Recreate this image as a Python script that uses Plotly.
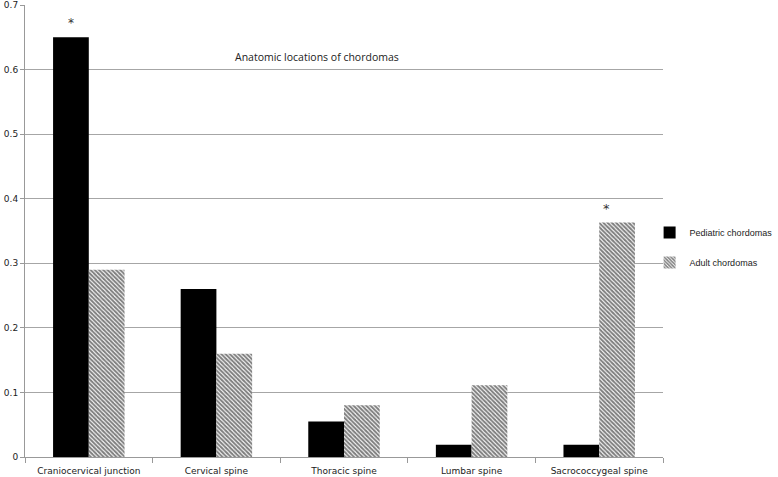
import plotly.graph_objects as go

categories = ["Craniocervical junction", "Cervical spine", "Thoracic spine", "Lumbar spine", "Sacrococcygeal spine"]
pediatric = [0.65, 0.26, 0.055, 0.019, 0.019]
adult = [0.29, 0.16, 0.08, 0.111, 0.363]
y_ticks = [0, 0.1, 0.2, 0.3, 0.4, 0.5, 0.6, 0.7]
y_tick_labels = ["0", "0.1", "0.2", "0.3", "0.4", "0.5", "0.6", "0.7"]

fig = go.Figure()
fig.add_trace(go.Bar(name="Pediatric chordomas", x=categories, y=pediatric, legendgroup="p",
                     marker=dict(color="black", line=dict(width=0))))
fig.add_trace(go.Bar(name="Adult chordomas", x=categories, y=adult, legendgroup="a",
                     marker=dict(color="white", line=dict(width=0),
                                 pattern=dict(shape="\\", fgcolor="#000000", bgcolor="white",
                                              size=3, solidity=0.65))))

fig.add_annotation(x=categories[0], y=pediatric[0], text="*", showarrow=False,
                   xshift=-18, yshift=14, font=dict(size=12, color="#333"))
fig.add_annotation(x=categories[4], y=adult[4], text="*", showarrow=False,
                   xshift=7, yshift=14, font=dict(size=13, color="#333"))
fig.add_annotation(x=0.458, xref="paper", y=0.905, yref="paper", text="Anatomic locations of chordomas",
                   showarrow=False, font=dict(family="Open Sans", size=10.5, color="#222"))

fig.update_layout(
    width=778, height=477,
    margin=dict(l=25, r=115, t=5, b=20, autoexpand=False),
    plot_bgcolor="white", paper_bgcolor="white",
    barmode="group", bargap=0.44, bargroupgap=0,
    font=dict(family="DejaVu Sans", size=9, color="#222"),
    legend=dict(x=0.979, y=0.4635, xanchor="left", yanchor="middle",
                font=dict(family="Liberation Sans", size=9, color="#222"),
                tracegroupgap=11, itemwidth=30, bgcolor="rgba(0,0,0,0)"),
    showlegend=True,
)
fig.update_xaxes(showline=True, linecolor="#999", linewidth=1, ticks="outside",
                 tickson="boundaries", ticklen=5, tickcolor="#999", showgrid=False,
                 ticklabelstandoff=5, automargin=False)
fig.update_yaxes(range=[0, 0.7], tickvals=y_ticks, ticktext=y_tick_labels,
                 showgrid=True, gridcolor="#a6a6a6", gridwidth=1,
                 showline=True, linecolor="#999", ticks="outside", ticklen=4, tickcolor="#999",
                 zeroline=False, automargin=False)

fig.write_html("out.html", config={"displayModeBar": False},
               post_script="document.body.style.margin='0';")
